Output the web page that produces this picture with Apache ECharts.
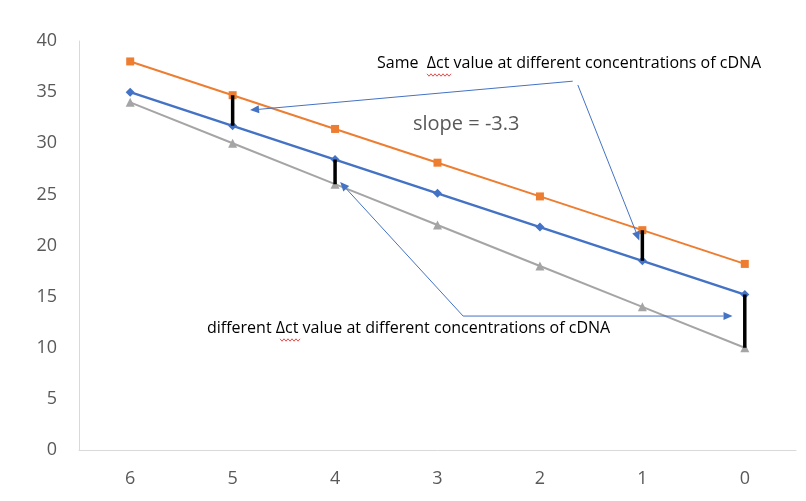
<!DOCTYPE html>
<html><head><meta charset="utf-8">
<script src="https://cdn.jsdelivr.net/npm/echarts@6/dist/echarts.min.js"></script>
<style>html,body{margin:0;padding:0;background:#fff}#c{width:806px;height:501px}</style>
</head><body><div id="c"></div>
<script>
var categories = ['6','5','4','3','2','1','0'];
var yTicks = {min:0, max:40, interval:5};
var seriesOrange = [38, 34.7, 31.4, 28.1, 24.8, 21.5, 18.2];
var seriesBlue   = [35, 31.7, 28.4, 25.1, 21.8, 18.5, 15.2];
var seriesGray   = [34, 30, 26, 22, 18, 14, 10];
// black difference bars: [category, from, to]
var diffBars = [['5',34.7,31.7],['4',28.4,26],['1',21.5,18.5],['0',15.2,10]];
// annotation arrows in data space: [fromX, fromY, toX, toY] (x in concentration units)
var arrows = [[1.68,36.07,4.83,33.24],[1.63,35.7,1.03,20.5],[2.75,13.1,3.95,26.2],[2.75,13.1,0.12,13.1]];
var labels = {same:'Same  \u0394ct value at different concentrations of cDNA', diff:'different \u0394ct value at different concentrations of cDNA', slope:'slope = -3.3'};

var chart = echarts.init(document.getElementById('c'));
var series = [
  {type:'line', data:seriesGray, symbol:'triangle', symbolSize:9, lineStyle:{color:'#A5A5A5',width:2}, itemStyle:{color:'#A5A5A5'}, z:2},
  {type:'line', data:seriesOrange, symbol:'rect', symbolSize:8, lineStyle:{color:'#ED7D31',width:2}, itemStyle:{color:'#ED7D31'}, z:2},
  {type:'line', data:seriesBlue, symbol:'diamond', symbolSize:9, lineStyle:{color:'#4472C4',width:2.5}, itemStyle:{color:'#4472C4'}, z:3}
];
diffBars.forEach(function(b){
  series.push({type:'line', data:[[b[0],b[1]],[b[0],b[2]]], symbol:'none', lineStyle:{color:'#000',width:3.5}, z:4, silent:true});
});
chart.setOption({
  animation:false,
  grid:{left:79, right:10, top:41, bottom:51},
  xAxis:{type:'category', data:categories, boundaryGap:true,
    axisLine:{lineStyle:{color:'#D9D9D9'}}, axisTick:{show:false},
    axisLabel:{color:'#595959', fontSize:18, fontFamily:'Open Sans', margin:20}},
  yAxis:{type:'value', min:yTicks.min, max:yTicks.max, interval:yTicks.interval,
    axisLine:{show:true, lineStyle:{color:'#D9D9D9'}}, axisTick:{show:false}, splitLine:{show:false},
    axisLabel:{color:'#595959', fontSize:18, fontFamily:'Open Sans', margin:22}},
  series:series
});

function px(L, v){
  var a = chart.convertToPixel({xAxisIndex:0}, '6');
  var b = chart.convertToPixel({xAxisIndex:0}, '5');
  var y = chart.convertToPixel({yAxisIndex:0}, v);
  return [a + (6-L)*(b-a), y];
}
var g = [];
arrows.forEach(function(ar){
  var p = px(ar[0],ar[1]), q = px(ar[2],ar[3]);
  var dx=q[0]-p[0], dy=q[1]-p[1], len=Math.sqrt(dx*dx+dy*dy), ux=dx/len, uy=dy/len;
  var hl=9, hw=4;
  var base=[q[0]-ux*hl, q[1]-uy*hl];
  g.push({type:'line', shape:{x1:p[0],y1:p[1],x2:base[0],y2:base[1]}, style:{stroke:'#4472C4',lineWidth:1}, z:10});
  g.push({type:'polygon', shape:{points:[q,[base[0]-uy*hw,base[1]+ux*hw],[base[0]+uy*hw,base[1]-ux*hw]]}, style:{fill:'#4472C4'}, z:10});
});
function squiggle(x0, x1, y){
  var pts=[], i=0;
  for (var x=x0; x<=x1; x+=2, i++) pts.push([x, y + (i%2 ? 1.2 : -1.2)]);
  return {type:'polyline', shape:{points:pts}, style:{stroke:'#E02020', lineWidth:0.8, fill:null}, z:12};
}
g.push({type:'text', left:377, top:55, style:{text:labels.same, fill:'#000', font:'16px "Open Sans"'}, z:11});
g.push({type:'text', left:207, top:320, style:{text:labels.diff, fill:'#000', font:'16px "Open Sans"'}, z:11});
g.push({type:'text', left:413, top:114, style:{text:labels.slope, fill:'#595959', font:'20px "Open Sans"'}, z:11});
g.push(squiggle(427, 452, 75));
g.push(squiggle(280, 300, 340));
chart.setOption({graphic:g});
</script></body></html>
